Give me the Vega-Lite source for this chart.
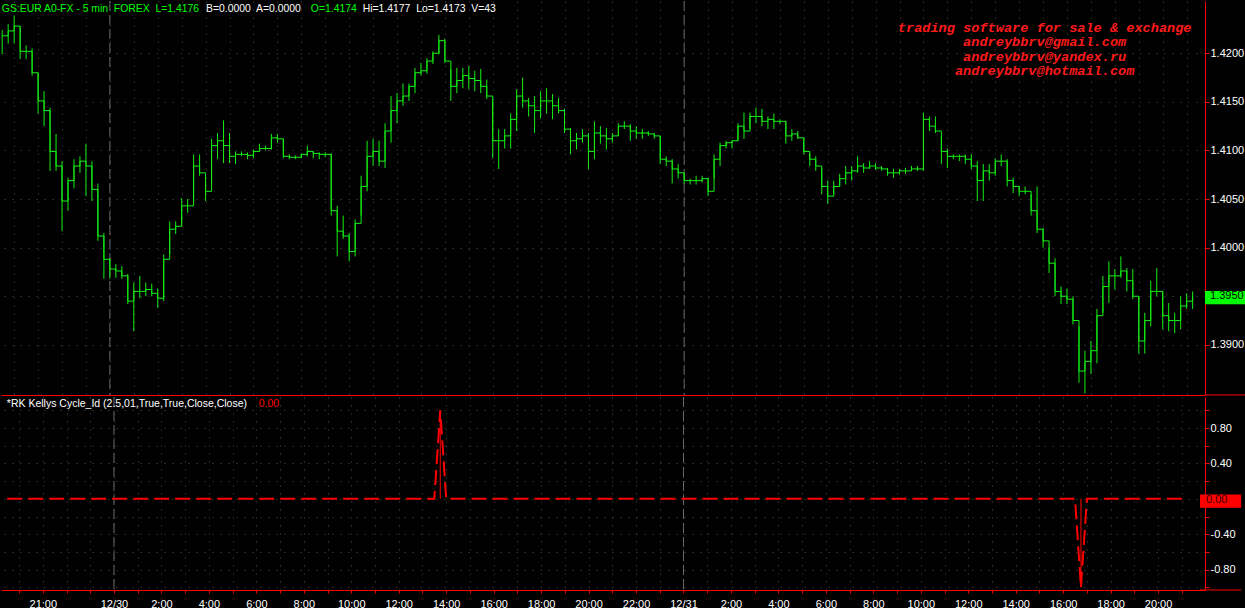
{
"$schema": "https://vega.github.io/schema/vega-lite/v6.json",
"background": "#000000",
"padding": 0,
"spacing": 0,
"config": {"view": {"stroke": null}},
"datasets": {
"bars": [
{"t":"2009-12-29T19:30","h":1.4224,"l":1.4199,"c":1.4218,"k":0},
{"t":"2009-12-29T19:45","h":1.4230,"l":1.4210,"c":1.4223,"k":0},
{"t":"2009-12-29T20:00","h":1.4239,"l":1.4210,"c":1.4228,"k":0},
{"t":"2009-12-29T20:15","h":1.4228,"l":1.4194,"c":1.4202,"k":0},
{"t":"2009-12-29T20:30","h":1.4208,"l":1.4194,"c":1.4202,"k":0},
{"t":"2009-12-29T20:45","h":1.4205,"l":1.4177,"c":1.4180,"k":0},
{"t":"2009-12-29T21:00","h":1.4180,"l":1.4138,"c":1.4151,"k":0},
{"t":"2009-12-29T21:15","h":1.4161,"l":1.4125,"c":1.4141,"k":0},
{"t":"2009-12-29T21:30","h":1.4144,"l":1.4079,"c":1.4099,"k":0},
{"t":"2009-12-29T21:45","h":1.4117,"l":1.4079,"c":1.4084,"k":0},
{"t":"2009-12-29T22:00","h":1.4089,"l":1.4017,"c":1.4048,"k":0},
{"t":"2009-12-29T22:15","h":1.4072,"l":1.4038,"c":1.4069,"k":0},
{"t":"2009-12-29T22:30","h":1.4091,"l":1.4061,"c":1.4084,"k":0},
{"t":"2009-12-29T22:45","h":1.4094,"l":1.4077,"c":1.4089,"k":0},
{"t":"2009-12-29T23:00","h":1.4107,"l":1.4053,"c":1.4084,"k":0},
{"t":"2009-12-29T23:15","h":1.4089,"l":1.4048,"c":1.4060,"k":0},
{"t":"2009-12-29T23:30","h":1.4066,"l":1.4007,"c":1.4012,"k":0},
{"t":"2009-12-29T23:45","h":1.4015,"l":1.3968,"c":1.3988,"k":0},
{"t":"2009-12-30T00:00","h":1.3989,"l":1.3968,"c":1.3978,"k":0},
{"t":"2009-12-30T00:15","h":1.3983,"l":1.3969,"c":1.3976,"k":0},
{"t":"2009-12-30T00:30","h":1.3981,"l":1.3968,"c":1.3971,"k":0},
{"t":"2009-12-30T00:45","h":1.3973,"l":1.3942,"c":1.3945,"k":0},
{"t":"2009-12-30T01:00","h":1.3964,"l":1.3914,"c":1.3955,"k":0},
{"t":"2009-12-30T01:15","h":1.3971,"l":1.3948,"c":1.3955,"k":0},
{"t":"2009-12-30T01:30","h":1.3964,"l":1.3950,"c":1.3957,"k":0},
{"t":"2009-12-30T01:45","h":1.3963,"l":1.3950,"c":1.3953,"k":0},
{"t":"2009-12-30T02:00","h":1.3958,"l":1.3938,"c":1.3948,"k":0},
{"t":"2009-12-30T02:15","h":1.3993,"l":1.3945,"c":1.3988,"k":0},
{"t":"2009-12-30T02:30","h":1.4027,"l":1.3993,"c":1.4019,"k":0},
{"t":"2009-12-30T02:45","h":1.4027,"l":1.4014,"c":1.4022,"k":0},
{"t":"2009-12-30T03:00","h":1.4051,"l":1.4024,"c":1.4043,"k":0},
{"t":"2009-12-30T03:15","h":1.4050,"l":1.4036,"c":1.4043,"k":0},
{"t":"2009-12-30T03:30","h":1.4096,"l":1.4048,"c":1.4084,"k":0},
{"t":"2009-12-30T03:45","h":1.4096,"l":1.4074,"c":1.4077,"k":0},
{"t":"2009-12-30T04:00","h":1.4071,"l":1.4048,"c":1.4058,"k":0},
{"t":"2009-12-30T04:15","h":1.4112,"l":1.4066,"c":1.4105,"k":0},
{"t":"2009-12-30T04:30","h":1.4118,"l":1.4091,"c":1.4110,"k":0},
{"t":"2009-12-30T04:45","h":1.4131,"l":1.4087,"c":1.4105,"k":0},
{"t":"2009-12-30T05:00","h":1.4118,"l":1.4087,"c":1.4094,"k":0},
{"t":"2009-12-30T05:15","h":1.4099,"l":1.4086,"c":1.4096,"k":0},
{"t":"2009-12-30T05:30","h":1.4099,"l":1.4094,"c":1.4096,"k":0},
{"t":"2009-12-30T05:45","h":1.4098,"l":1.4091,"c":1.4095,"k":0},
{"t":"2009-12-30T06:00","h":1.4101,"l":1.4092,"c":1.4099,"k":0},
{"t":"2009-12-30T06:15","h":1.4107,"l":1.4099,"c":1.4102,"k":0},
{"t":"2009-12-30T06:30","h":1.4105,"l":1.4100,"c":1.4102,"k":0},
{"t":"2009-12-30T06:45","h":1.4117,"l":1.4101,"c":1.4113,"k":0},
{"t":"2009-12-30T07:00","h":1.4117,"l":1.4108,"c":1.4112,"k":0},
{"t":"2009-12-30T07:15","h":1.4112,"l":1.4092,"c":1.4094,"k":0},
{"t":"2009-12-30T07:30","h":1.4096,"l":1.4091,"c":1.4093,"k":0},
{"t":"2009-12-30T07:45","h":1.4095,"l":1.4091,"c":1.4093,"k":0},
{"t":"2009-12-30T08:00","h":1.4097,"l":1.4092,"c":1.4096,"k":0},
{"t":"2009-12-30T08:15","h":1.4105,"l":1.4094,"c":1.4099,"k":0},
{"t":"2009-12-30T08:30","h":1.4099,"l":1.4092,"c":1.4097,"k":0},
{"t":"2009-12-30T08:45","h":1.4098,"l":1.4091,"c":1.4096,"k":0},
{"t":"2009-12-30T09:00","h":1.4098,"l":1.4093,"c":1.4096,"k":0},
{"t":"2009-12-30T09:15","h":1.4097,"l":1.4033,"c":1.4038,"k":0},
{"t":"2009-12-30T09:30","h":1.4043,"l":1.3991,"c":1.4017,"k":0},
{"t":"2009-12-30T09:45","h":1.4033,"l":1.4009,"c":1.4012,"k":0},
{"t":"2009-12-30T10:00","h":1.4015,"l":1.3986,"c":1.3996,"k":0},
{"t":"2009-12-30T10:15","h":1.4029,"l":1.3991,"c":1.4025,"k":0},
{"t":"2009-12-30T10:30","h":1.4074,"l":1.4033,"c":1.4063,"k":0},
{"t":"2009-12-30T10:45","h":1.4110,"l":1.4058,"c":1.4094,"k":0},
{"t":"2009-12-30T11:00","h":1.4112,"l":1.4084,"c":1.4099,"k":0},
{"t":"2009-12-30T11:15","h":1.4110,"l":1.4084,"c":1.4089,"k":0},
{"t":"2009-12-30T11:30","h":1.4128,"l":1.4082,"c":1.4120,"k":0},
{"t":"2009-12-30T11:45","h":1.4156,"l":1.4108,"c":1.4141,"k":0},
{"t":"2009-12-30T12:00","h":1.4159,"l":1.4128,"c":1.4151,"k":0},
{"t":"2009-12-30T12:15","h":1.4169,"l":1.4146,"c":1.4156,"k":0},
{"t":"2009-12-30T12:30","h":1.4169,"l":1.4151,"c":1.4166,"k":0},
{"t":"2009-12-30T12:45","h":1.4185,"l":1.4159,"c":1.4180,"k":0},
{"t":"2009-12-30T13:00","h":1.4190,"l":1.4177,"c":1.4182,"k":0},
{"t":"2009-12-30T13:15","h":1.4195,"l":1.4179,"c":1.4192,"k":0},
{"t":"2009-12-30T13:30","h":1.4202,"l":1.4189,"c":1.4200,"k":0},
{"t":"2009-12-30T13:45","h":1.4219,"l":1.4199,"c":1.4213,"k":1},
{"t":"2009-12-30T14:00","h":1.4215,"l":1.4190,"c":1.4192,"k":0},
{"t":"2009-12-30T14:15","h":1.4184,"l":1.4151,"c":1.4166,"k":0},
{"t":"2009-12-30T14:30","h":1.4185,"l":1.4159,"c":1.4172,"k":0},
{"t":"2009-12-30T14:45","h":1.4185,"l":1.4164,"c":1.4177,"k":0},
{"t":"2009-12-30T15:00","h":1.4187,"l":1.4163,"c":1.4174,"k":0},
{"t":"2009-12-30T15:15","h":1.4182,"l":1.4161,"c":1.4172,"k":0},
{"t":"2009-12-30T15:30","h":1.4184,"l":1.4159,"c":1.4166,"k":0},
{"t":"2009-12-30T15:45","h":1.4173,"l":1.4153,"c":1.4156,"k":0},
{"t":"2009-12-30T16:00","h":1.4153,"l":1.4092,"c":1.4110,"k":0},
{"t":"2009-12-30T16:15","h":1.4122,"l":1.4081,"c":1.4110,"k":0},
{"t":"2009-12-30T16:30","h":1.4122,"l":1.4102,"c":1.4115,"k":0},
{"t":"2009-12-30T16:45","h":1.4138,"l":1.4102,"c":1.4132,"k":0},
{"t":"2009-12-30T17:00","h":1.4163,"l":1.4120,"c":1.4156,"k":0},
{"t":"2009-12-30T17:15","h":1.4175,"l":1.4144,"c":1.4151,"k":0},
{"t":"2009-12-30T17:30","h":1.4154,"l":1.4135,"c":1.4146,"k":0},
{"t":"2009-12-30T17:45","h":1.4156,"l":1.4118,"c":1.4141,"k":0},
{"t":"2009-12-30T18:00","h":1.4161,"l":1.4133,"c":1.4151,"k":0},
{"t":"2009-12-30T18:15","h":1.4164,"l":1.4138,"c":1.4151,"k":0},
{"t":"2009-12-30T18:30","h":1.4158,"l":1.4132,"c":1.4146,"k":0},
{"t":"2009-12-30T18:45","h":1.4154,"l":1.4138,"c":1.4141,"k":0},
{"t":"2009-12-30T19:00","h":1.4143,"l":1.4118,"c":1.4122,"k":0},
{"t":"2009-12-30T19:15","h":1.4123,"l":1.4096,"c":1.4110,"k":0},
{"t":"2009-12-30T19:30","h":1.4118,"l":1.4101,"c":1.4112,"k":0},
{"t":"2009-12-30T19:45","h":1.4122,"l":1.4108,"c":1.4115,"k":0},
{"t":"2009-12-30T20:00","h":1.4118,"l":1.4081,"c":1.4099,"k":0},
{"t":"2009-12-30T20:15","h":1.4130,"l":1.4091,"c":1.4118,"k":0},
{"t":"2009-12-30T20:30","h":1.4125,"l":1.4107,"c":1.4115,"k":0},
{"t":"2009-12-30T20:45","h":1.4123,"l":1.4101,"c":1.4112,"k":0},
{"t":"2009-12-30T21:00","h":1.4118,"l":1.4108,"c":1.4115,"k":0},
{"t":"2009-12-30T21:15","h":1.4128,"l":1.4115,"c":1.4125,"k":0},
{"t":"2009-12-30T21:30","h":1.4130,"l":1.4122,"c":1.4125,"k":0},
{"t":"2009-12-30T21:45","h":1.4127,"l":1.4110,"c":1.4120,"k":0},
{"t":"2009-12-30T22:00","h":1.4125,"l":1.4112,"c":1.4118,"k":0},
{"t":"2009-12-30T22:15","h":1.4122,"l":1.4112,"c":1.4118,"k":0},
{"t":"2009-12-30T22:30","h":1.4120,"l":1.4115,"c":1.4117,"k":0},
{"t":"2009-12-30T22:45","h":1.4118,"l":1.4112,"c":1.4115,"k":0},
{"t":"2009-12-30T23:00","h":1.4115,"l":1.4086,"c":1.4091,"k":0},
{"t":"2009-12-30T23:15","h":1.4094,"l":1.4084,"c":1.4089,"k":0},
{"t":"2009-12-30T23:30","h":1.4091,"l":1.4066,"c":1.4081,"k":0},
{"t":"2009-12-30T23:45","h":1.4086,"l":1.4071,"c":1.4077,"k":0},
{"t":"2009-12-31T00:00","h":1.4077,"l":1.4066,"c":1.4069,"k":0},
{"t":"2009-12-31T00:15","h":1.4071,"l":1.4065,"c":1.4069,"k":0},
{"t":"2009-12-31T00:30","h":1.4074,"l":1.4065,"c":1.4069,"k":0},
{"t":"2009-12-31T00:45","h":1.4074,"l":1.4067,"c":1.4071,"k":0},
{"t":"2009-12-31T01:00","h":1.4072,"l":1.4053,"c":1.4058,"k":0},
{"t":"2009-12-31T01:15","h":1.4096,"l":1.4071,"c":1.4091,"k":0},
{"t":"2009-12-31T01:30","h":1.4108,"l":1.4084,"c":1.4105,"k":0},
{"t":"2009-12-31T01:45","h":1.4110,"l":1.4102,"c":1.4108,"k":0},
{"t":"2009-12-31T02:00","h":1.4110,"l":1.4102,"c":1.4110,"k":0},
{"t":"2009-12-31T02:15","h":1.4128,"l":1.4110,"c":1.4125,"k":0},
{"t":"2009-12-31T02:30","h":1.4139,"l":1.4112,"c":1.4120,"k":0},
{"t":"2009-12-31T02:45","h":1.4139,"l":1.4122,"c":1.4135,"k":0},
{"t":"2009-12-31T03:00","h":1.4144,"l":1.4128,"c":1.4135,"k":0},
{"t":"2009-12-31T03:15","h":1.4143,"l":1.4125,"c":1.4130,"k":0},
{"t":"2009-12-31T03:30","h":1.4135,"l":1.4122,"c":1.4132,"k":0},
{"t":"2009-12-31T03:45","h":1.4138,"l":1.4122,"c":1.4130,"k":0},
{"t":"2009-12-31T04:00","h":1.4132,"l":1.4127,"c":1.4130,"k":0},
{"t":"2009-12-31T04:15","h":1.4130,"l":1.4107,"c":1.4115,"k":0},
{"t":"2009-12-31T04:30","h":1.4122,"l":1.4110,"c":1.4117,"k":0},
{"t":"2009-12-31T04:45","h":1.4120,"l":1.4112,"c":1.4113,"k":0},
{"t":"2009-12-31T05:00","h":1.4113,"l":1.4096,"c":1.4099,"k":0},
{"t":"2009-12-31T05:15","h":1.4097,"l":1.4084,"c":1.4091,"k":0},
{"t":"2009-12-31T05:30","h":1.4094,"l":1.4079,"c":1.4084,"k":0},
{"t":"2009-12-31T05:45","h":1.4082,"l":1.4055,"c":1.4063,"k":0},
{"t":"2009-12-31T06:00","h":1.4069,"l":1.4045,"c":1.4053,"k":0},
{"t":"2009-12-31T06:15","h":1.4069,"l":1.4055,"c":1.4063,"k":0},
{"t":"2009-12-31T06:30","h":1.4076,"l":1.4063,"c":1.4071,"k":0},
{"t":"2009-12-31T06:45","h":1.4084,"l":1.4065,"c":1.4077,"k":0},
{"t":"2009-12-31T07:00","h":1.4084,"l":1.4069,"c":1.4079,"k":0},
{"t":"2009-12-31T07:15","h":1.4094,"l":1.4077,"c":1.4084,"k":0},
{"t":"2009-12-31T07:30","h":1.4087,"l":1.4077,"c":1.4082,"k":0},
{"t":"2009-12-31T07:45","h":1.4089,"l":1.4081,"c":1.4084,"k":0},
{"t":"2009-12-31T08:00","h":1.4087,"l":1.4080,"c":1.4082,"k":0},
{"t":"2009-12-31T08:15","h":1.4084,"l":1.4079,"c":1.4081,"k":0},
{"t":"2009-12-31T08:30","h":1.4082,"l":1.4074,"c":1.4077,"k":0},
{"t":"2009-12-31T08:45","h":1.4081,"l":1.4072,"c":1.4077,"k":0},
{"t":"2009-12-31T09:00","h":1.4081,"l":1.4075,"c":1.4079,"k":0},
{"t":"2009-12-31T09:15","h":1.4082,"l":1.4076,"c":1.4079,"k":0},
{"t":"2009-12-31T09:30","h":1.4084,"l":1.4079,"c":1.4081,"k":0},
{"t":"2009-12-31T09:45","h":1.4084,"l":1.4079,"c":1.4081,"k":0},
{"t":"2009-12-31T10:00","h":1.4139,"l":1.4079,"c":1.4132,"k":0},
{"t":"2009-12-31T10:15","h":1.4135,"l":1.4120,"c":1.4125,"k":0},
{"t":"2009-12-31T10:30","h":1.4135,"l":1.4118,"c":1.4120,"k":0},
{"t":"2009-12-31T10:45","h":1.4115,"l":1.4086,"c":1.4099,"k":0},
{"t":"2009-12-31T11:00","h":1.4102,"l":1.4082,"c":1.4094,"k":0},
{"t":"2009-12-31T11:15","h":1.4096,"l":1.4091,"c":1.4094,"k":0},
{"t":"2009-12-31T11:30","h":1.4096,"l":1.4089,"c":1.4094,"k":0},
{"t":"2009-12-31T11:45","h":1.4096,"l":1.4086,"c":1.4091,"k":0},
{"t":"2009-12-31T12:00","h":1.4096,"l":1.4081,"c":1.4084,"k":0},
{"t":"2009-12-31T12:15","h":1.4089,"l":1.4048,"c":1.4069,"k":0},
{"t":"2009-12-31T12:30","h":1.4086,"l":1.4048,"c":1.4079,"k":0},
{"t":"2009-12-31T12:45","h":1.4086,"l":1.4069,"c":1.4077,"k":0},
{"t":"2009-12-31T13:00","h":1.4092,"l":1.4074,"c":1.4089,"k":0},
{"t":"2009-12-31T13:15","h":1.4096,"l":1.4084,"c":1.4089,"k":0},
{"t":"2009-12-31T13:30","h":1.4091,"l":1.4063,"c":1.4069,"k":0},
{"t":"2009-12-31T13:45","h":1.4072,"l":1.4056,"c":1.4063,"k":0},
{"t":"2009-12-31T14:00","h":1.4063,"l":1.4053,"c":1.4058,"k":0},
{"t":"2009-12-31T14:15","h":1.4063,"l":1.4055,"c":1.4058,"k":0},
{"t":"2009-12-31T14:30","h":1.4055,"l":1.4033,"c":1.4038,"k":0},
{"t":"2009-12-31T14:45","h":1.4063,"l":1.4015,"c":1.4019,"k":0},
{"t":"2009-12-31T15:00","h":1.4020,"l":1.4000,"c":1.4007,"k":0},
{"t":"2009-12-31T15:15","h":1.4000,"l":1.3974,"c":1.3984,"k":0},
{"t":"2009-12-31T15:30","h":1.3989,"l":1.3950,"c":1.3955,"k":0},
{"t":"2009-12-31T15:45","h":1.3960,"l":1.3942,"c":1.3950,"k":0},
{"t":"2009-12-31T16:00","h":1.3958,"l":1.3942,"c":1.3947,"k":0},
{"t":"2009-12-31T16:15","h":1.3950,"l":1.3921,"c":1.3925,"k":0},
{"t":"2009-12-31T16:30","h":1.3919,"l":1.3861,"c":1.3873,"k":0},
{"t":"2009-12-31T16:45","h":1.3894,"l":1.3850,"c":1.3883,"k":-1},
{"t":"2009-12-31T17:00","h":1.3904,"l":1.3870,"c":1.3894,"k":0},
{"t":"2009-12-31T17:15","h":1.3937,"l":1.3881,"c":1.3930,"k":0},
{"t":"2009-12-31T17:30","h":1.3971,"l":1.3933,"c":1.3960,"k":0},
{"t":"2009-12-31T17:45","h":1.3986,"l":1.3943,"c":1.3971,"k":0},
{"t":"2009-12-31T18:00","h":1.3978,"l":1.3957,"c":1.3971,"k":0},
{"t":"2009-12-31T18:15","h":1.3991,"l":1.3969,"c":1.3976,"k":0},
{"t":"2009-12-31T18:30","h":1.3979,"l":1.3955,"c":1.3966,"k":0},
{"t":"2009-12-31T18:45","h":1.3978,"l":1.3947,"c":1.3950,"k":0},
{"t":"2009-12-31T19:00","h":1.3950,"l":1.3891,"c":1.3904,"k":0},
{"t":"2009-12-31T19:15","h":1.3933,"l":1.3891,"c":1.3925,"k":0},
{"t":"2009-12-31T19:30","h":1.3966,"l":1.3919,"c":1.3955,"k":0},
{"t":"2009-12-31T19:45","h":1.3979,"l":1.3950,"c":1.3955,"k":0},
{"t":"2009-12-31T20:00","h":1.3955,"l":1.3916,"c":1.3930,"k":0},
{"t":"2009-12-31T20:15","h":1.3943,"l":1.3914,"c":1.3925,"k":0},
{"t":"2009-12-31T20:30","h":1.3933,"l":1.3912,"c":1.3925,"k":0},
{"t":"2009-12-31T20:45","h":1.3950,"l":1.3916,"c":1.3940,"k":0},
{"t":"2009-12-31T21:00","h":1.3953,"l":1.3937,"c":1.3945,"k":0},
{"t":"2009-12-31T21:15","h":1.3955,"l":1.3937,"c":1.3950,"k":0}
],
"days": [{"d":"2009-12-30T00:00"},{"d":"2009-12-31T00:00"}]
},
"vconcat": [
{
"width": 1204,
"height": 394,
"data": {"name": "bars"},
"layer": [
{
"data": {"name": "days"},
"mark": {"type": "rule", "color": "#6a6a6a", "strokeDash": [10, 4], "strokeWidth": 1},
"encoding": {"x": {"field": "d", "type": "temporal"}}
},
{
"mark": {"type": "rule", "color": "#14f014", "strokeWidth": 1},
"encoding": {
"x": {"field": "t", "type": "temporal",
"scale": {"domain": [{"year":2009,"month":12,"date":29,"hours":19,"minutes":27},{"year":2009,"month":12,"date":31,"hours":21,"minutes":46}], "nice": false},
"axis": {"orient": "bottom", "title": null, "labels": false, "ticks": false, "domain": true, "domainColor": "#ff0000", "grid": true, "gridColor": "#505050", "gridDash": [1, 7], "tickCount": 52}},
"y": {"field": "h", "type": "quantitative",
"scale": {"domain": [1.38484, 1.42538], "nice": false, "zero": false},
"axis": {"orient": "right", "title": null, "values": [1.39, 1.395, 1.4, 1.405, 1.41, 1.415, 1.42], "grid": true, "gridColor": "#505050", "gridDash": [1, 7], "tickSize": 4, "tickColor": "#ff0000", "domainColor": "#ff0000", "labelFont": "Liberation Sans", "labelFontSize": 11, "labelColor": "#ffffff", "labelPadding": 1, "labelOverlap": false,
"labelExpr": "abs(datum.value - 1.395) < 0.0001 ? '' : format(datum.value, '.4f')"}},
"y2": {"field": "l"}
}
},
{
"mark": {"type": "line", "interpolate": "step-after", "color": "#14f014", "strokeWidth": 1},
"encoding": {"x": {"field": "t", "type": "temporal"}, "y": {"field": "c", "type": "quantitative"}}
},
{
"data": {"values": [{}]},
"mark": {"type": "rect", "color": "#00ff00"},
"encoding": {
"x": {"datum": {"year":2009,"month":12,"date":31,"hours":21,"minutes":46}},
"x2": {"datum": {"year":2009,"month":12,"date":31,"hours":23,"minutes":30}},
"y": {"datum": 1.39554}, "y2": {"datum": 1.39417}
}
},
{
"data": {"values": [{}]},
"mark": {"type": "text", "align": "left", "baseline": "middle", "font": "Liberation Sans", "fontSize": 11, "color": "#000000", "dx": 5},
"encoding": {"x": {"datum": {"year":2009,"month":12,"date":31,"hours":21,"minutes":46}}, "y": {"datum": 1.395}, "text": {"value": "1.3950"}}
},
{
"data": {"values": [{}]},
"mark": {"type": "rule", "color": "#ff0000", "strokeWidth": 1},
"encoding": {
"x": {"datum": {"year":2009,"month":12,"date":31,"hours":21,"minutes":46}},
"x2": {"datum": {"year":2009,"month":12,"date":31,"hours":23,"minutes":30}},
"y": {"datum": 1.38484}
}
},
{
"data": {"values": [{}]},
"mark": {"type": "text", "align": "left", "baseline": "alphabetic", "font": "Liberation Sans", "fontSize": 10.4, "color": "#00ff00"},
"encoding": {"x": {"datum": {"year":2009,"month":12,"date":29,"hours":19,"minutes":29}}, "y": {"datum": 1.42425}, "text": {"value": "GS:EUR A0-FX - 5 min\u00a0 FOREX\u00a0 L=1.4176"}}
},
{
"data": {"values": [{}]},
"mark": {"type": "text", "align": "left", "baseline": "alphabetic", "font": "Liberation Sans", "fontSize": 10.4, "color": "#ffffff"},
"encoding": {"x": {"datum": {"year":2009,"month":12,"date":30,"hours":4,"minutes":1}}, "y": {"datum": 1.42425}, "text": {"value": "B=0.0000\u00a0 A=0.0000"}}
},
{
"data": {"values": [{}]},
"mark": {"type": "text", "align": "left", "baseline": "alphabetic", "font": "Liberation Sans", "fontSize": 10.4, "color": "#00ff00"},
"encoding": {"x": {"datum": {"year":2009,"month":12,"date":30,"hours":8,"minutes":24}}, "y": {"datum": 1.42425}, "text": {"value": "O=1.4174"}}
},
{
"data": {"values": [{}]},
"mark": {"type": "text", "align": "left", "baseline": "alphabetic", "font": "Liberation Sans", "fontSize": 10.4, "color": "#ffffff"},
"encoding": {"x": {"datum": {"year":2009,"month":12,"date":30,"hours":10,"minutes":34}}, "y": {"datum": 1.42425}, "text": {"value": "Hi=1.4177\u00a0 Lo=1.4173\u00a0 V=43"}}
},
{
"data": {"values": [{}]},
"mark": {"type": "text", "align": "center", "baseline": "alphabetic", "font": "Liberation Mono", "fontSize": 13.6, "fontWeight": "bold", "fontStyle": "italic", "color": "#ff1a1a"},
"encoding": {"x": {"datum": {"year":2009,"month":12,"date":31,"hours":15,"minutes":4}}, "y": {"datum": 1.42214}, "text": {"value": "trading software for sale & exchange"}}
},
{
"data": {"values": [{}]},
"mark": {"type": "text", "align": "center", "baseline": "alphabetic", "font": "Liberation Mono", "fontSize": 13.6, "fontWeight": "bold", "fontStyle": "italic", "color": "#ff1a1a"},
"encoding": {"x": {"datum": {"year":2009,"month":12,"date":31,"hours":15,"minutes":4}}, "y": {"datum": 1.4207}, "text": {"value": "andreybbrv@gmail.com"}}
},
{
"data": {"values": [{}]},
"mark": {"type": "text", "align": "center", "baseline": "alphabetic", "font": "Liberation Mono", "fontSize": 13.6, "fontWeight": "bold", "fontStyle": "italic", "color": "#ff1a1a"},
"encoding": {"x": {"datum": {"year":2009,"month":12,"date":31,"hours":15,"minutes":4}}, "y": {"datum": 1.41923}, "text": {"value": "andreybbrv@yandex.ru"}}
},
{
"data": {"values": [{}]},
"mark": {"type": "text", "align": "center", "baseline": "alphabetic", "font": "Liberation Mono", "fontSize": 13.6, "fontWeight": "bold", "fontStyle": "italic", "color": "#ff1a1a"},
"encoding": {"x": {"datum": {"year":2009,"month":12,"date":31,"hours":15,"minutes":4}}, "y": {"datum": 1.41776}, "text": {"value": "andreybbrv@hotmail.com"}}
}
]
},
{
"width": 1204,
"height": 193,
"data": {"name": "bars"},
"layer": [
{
"data": {"name": "days"},
"mark": {"type": "rule", "color": "#6a6a6a", "strokeDash": [10, 4], "strokeWidth": 1},
"encoding": {"x": {"field": "d", "type": "temporal"}}
},
{
"mark": {"type": "line", "color": "#ff0000", "strokeWidth": 2, "strokeDash": [15, 6]},
"encoding": {
"x": {"field": "t", "type": "temporal",
"scale": {"domain": [{"year":2009,"month":12,"date":29,"hours":19,"minutes":27},{"year":2009,"month":12,"date":31,"hours":21,"minutes":46}], "nice": false},
"axis": {"orient": "bottom", "title": null, "grid": true, "gridColor": "#505050", "gridDash": [1, 7], "tickCount": 52, "tickSize": 3, "tickColor": "#ff0000", "domainColor": "#ff0000", "labelFont": "Liberation Sans", "labelFontSize": 11, "labelColor": "#ffffff", "labelPadding": 5, "labelOverlap": false,
"labelExpr": "hours(datum.value) == 0 ? timeFormat(datum.value, '%m/%d') : ((date(datum.value) == 29 ? hours(datum.value) == 21 : hours(datum.value) % 2 == 0) ? timeFormat(datum.value, '%-H:%M') : '')"}},
"y": {"field": "k", "type": "quantitative",
"scale": {"domain": [-1.029, 1.15], "nice": false, "zero": false},
"axis": {"orient": "right", "title": null, "tickCount": 11, "grid": true, "gridColor": "#505050", "gridDash": [1, 7], "tickSize": 4, "tickColor": "#ff0000", "domainColor": "#ff0000", "labelFont": "Liberation Sans", "labelFontSize": 11, "labelColor": "#ffffff", "labelPadding": 1, "labelOverlap": false,
"labelExpr": "(abs(abs(datum.value) - 0.4) < 0.01 || abs(abs(datum.value) - 0.8) < 0.01) ? (datum.value < -0.01 ? '-' : '') + format(abs(datum.value), '.2f') : ''"}}
}
},
{
"mark": {"type": "bar", "color": "#ff0000", "size": 1},
"encoding": {"x": {"field": "t", "type": "temporal"}, "y": {"field": "k", "type": "quantitative"}}
},
{
"data": {"values": [{}]},
"mark": {"type": "rect", "color": "#ff0000"},
"encoding": {
"x": {"datum": {"year":2009,"month":12,"date":31,"hours":21,"minutes":46}},
"x2": {"datum": {"year":2009,"month":12,"date":31,"hours":23,"minutes":30}},
"y": {"datum": 0.05}, "y2": {"datum": -0.1}
}
},
{
"data": {"values": [{}]},
"mark": {"type": "text", "align": "left", "baseline": "middle", "font": "Liberation Sans", "fontSize": 11, "color": "#3a0000", "dx": 6, "dy": 1},
"encoding": {"x": {"datum": {"year":2009,"month":12,"date":31,"hours":21,"minutes":46}}, "y": {"datum": 0}, "text": {"value": "0.00"}}
},
{
"data": {"values": [{}]},
"mark": {"type": "rule", "color": "#ff0000", "strokeWidth": 1},
"encoding": {
"x": {"datum": {"year":2009,"month":12,"date":31,"hours":21,"minutes":46}},
"x2": {"datum": {"year":2009,"month":12,"date":31,"hours":23,"minutes":30}},
"y": {"datum": -1.029}
}
},
{
"data": {"values": [{}]},
"mark": {"type": "text", "align": "left", "baseline": "alphabetic", "font": "Liberation Sans", "fontSize": 10.5, "color": "#ffffff"},
"encoding": {"x": {"datum": {"year":2009,"month":12,"date":29,"hours":19,"minutes":29}}, "y": {"datum": 1.037}, "text": {"value": "*RK Kellys Cycle_Id (2.5,01,True,True,Close,Close)"}}
},
{
"data": {"values": [{}]},
"mark": {"type": "text", "align": "left", "baseline": "alphabetic", "font": "Liberation Sans", "fontSize": 10.5, "color": "#ff0000"},
"encoding": {"x": {"datum": {"year":2009,"month":12,"date":30,"hours":6,"minutes":6}}, "y": {"datum": 1.037}, "text": {"value": "0.00"}}
}
]
}
]
}
